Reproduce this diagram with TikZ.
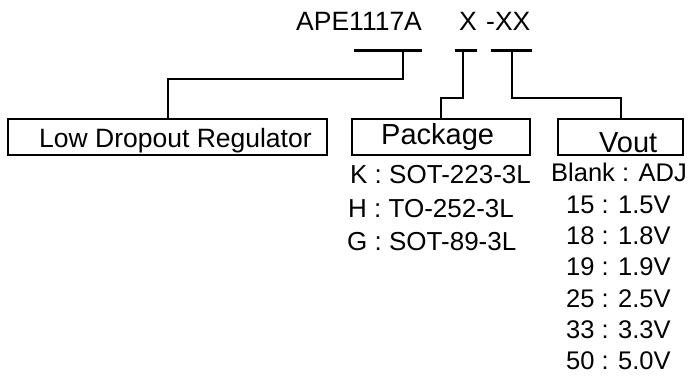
\documentclass[tikz,border=0pt]{standalone}
\usepackage{fontspec}
\setmainfont{Liberation Sans}
\begin{document}
\begin{tikzpicture}[x=1pt,y=-1pt,
  txt/.style={inner sep=0pt, anchor=base west, font=\fontsize{26.5}{30}\selectfont},
  lst/.style={inner sep=0pt, anchor=base west, font=\fontsize{25.5}{30}\selectfont},
  lstp/.style={inner sep=0pt, anchor=base west, font=\fontsize{26}{30}\selectfont},
  head/.style={inner sep=0pt, anchor=base west, font=\fontsize{29}{32}\selectfont},
  box/.style={draw, line width=1.5pt, inner sep=0pt, minimum height=36pt},
  bar/.style={line width=3pt},
  conn/.style={line width=2pt}]
\useasboundingbox (0,0) rectangle (688,377);
% part number
\node[txt] (pn) at (296,31) {APE1117A};
\node[txt] (x1) at (459,31) {X};
\node[txt] (x2) at (486,31) {-XX};
% bars
\coordinate (b1l) at (354,51); \coordinate (b1r) at (422,51);
\coordinate (b2l) at (455,51); \coordinate (b2r) at (477,51);
\coordinate (b3l) at (491,51); \coordinate (b3r) at (532,51);
\draw[bar] (b1l) -- (b1r);
\draw[bar] (b2l) -- (b2r);
\draw[bar] (b3l) -- (b3r);
\coordinate (c1) at (403,51);
\coordinate (c2) at (463,51);
\coordinate (c3) at (512,51);
% boxes
\node[box, minimum width=319pt] (ldr) at (167.5,137) {};
\node[box, minimum width=178pt] (pkg) at (441,137) {};
\node[box, minimum width=125pt] (vout) at (620.5,137) {};
\node[txt] (ldrt) at (39,148) {Low Dropout Regulator};
\node[head] (pkgt) at (381,145) {Package};
\node[head] (voutt) at (599,153) {Vout};
% connectors
\draw[conn] (c1) -- ++(0,28) -| (ldr.north);
\draw[conn] (c2) -- ++(0,47) -| (pkg.north);
\draw[conn] (c3) -- ++(0,47) -| (vout.north);
% package list
\node[lstp] (k) at (350,183) {K : SOT-223-3L};
\node[lstp] (h) at (348,217) {H : TO-252-3L};
\node[lstp] (g) at (347,250) {G : SOT-89-3L};
% vout list
\node[lst] (blank) at (551,182) {Blank : ADJ};
\node[lst] (v15) at (566,213) {15 : 1.5V};
\node[lst] (v18) at (566,244) {18 : 1.8V};
\node[lst] (v19) at (566,275) {19 : 1.9V};
\node[lst] (v25) at (566,307) {25 : 2.5V};
\node[lst] (v33) at (566,338) {33 : 3.3V};
\node[lst] (v50) at (566,369) {50 : 5.0V};
\end{tikzpicture}
\end{document}
